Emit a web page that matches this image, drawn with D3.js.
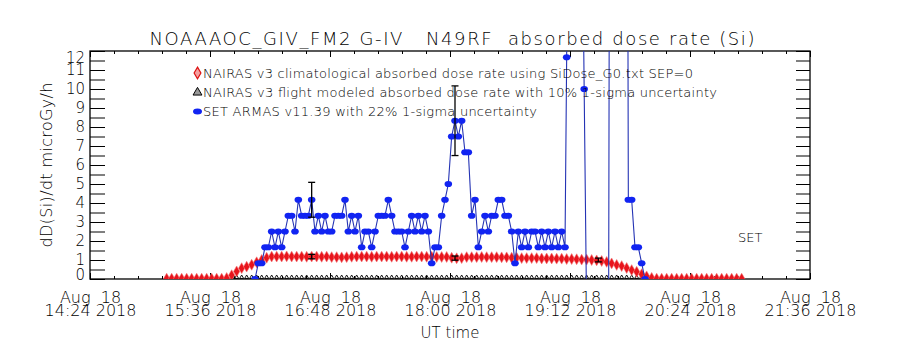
<!DOCTYPE html>
<html>
<head>
<meta charset="utf-8">
<script src="https://cdn.jsdelivr.net/npm/d3@7"></script>
<style>
body { margin: 0; background: #fff; }
text { font-family: "DejaVu Sans ExtraLight", "DejaVu Sans", sans-serif; font-weight: 200; fill: #000; white-space: pre; }
</style>
</head>
<body>
<div id="chart"></div>
<script>
// times are minutes after 00:00 UT on Aug 18 2018

// NAIRAS model output, every 3 min
const modelTime = d3.range(910, 1256, 3);
const climRate = [
    0.02, 0.02, 0.02, 0.02, 0.02, 0.02, 0.02, 0.02, 0.02, 0.02, 0.02, 0.02,
    0.05, 0.2, 0.4, 0.57, 0.65, 0.75, 0.88, 1.0, 1.12, 1.18,
    1.18, 1.18, 1.19, 1.18, 1.18, 1.18, 1.17, 1.18, 1.18, 1.17, 1.18, 1.15,
    1.15, 1.14, 1.15, 1.17, 1.18, 1.18, 1.18, 1.17, 1.18, 1.18, 1.18, 1.17,
    1.18, 1.18, 1.17, 1.17, 1.18, 1.18, 1.17, 1.17, 1.16, 1.16, 1.16,
    1.12, 1.09, 1.1,
    1.15, 1.15, 1.15, 1.16, 1.15, 1.15, 1.15, 1.14, 1.14,
    1.12, 1.12, 1.1, 1.1, 1.1, 1.1, 1.08, 1.08, 1.08, 1.07, 1.07, 1.05, 1.05, 1.04, 1.02, 1.02,
    1.0, 0.98, 0.95, 0.9, 0.82, 0.74, 0.68, 0.58, 0.47, 0.38, 0.25, 0.14, 0.06,
    0.02, 0.02, 0.02, 0.02, 0.02, 0.02, 0.02, 0.02, 0.02, 0.02, 0.02, 0.02,
    0.02, 0.02, 0.02, 0.02, 0.02, 0.02
];
const flightRate = [
    0.01, 0.01, 0.01, 0.01, 0.01, 0.01, 0.01, 0.01, 0.01, 0.01, 0.01, 0.01,
    0.01, 0.01, 0.01, 0.01, 0.01, 0.01, 0.01, 0.01, 0.01, 0.01, 0.01, 0.01,
    0.01, 0.01, 0.01, 0.01, 0.01, 0.01, 0.01, 0.01, 0.01, 0.01, 0.01, 0.01,
    0.01, 0.01, 0.01, 0.01, 0.01, 0.01, 0.01, 0.01, 0.01, 0.01, 0.01, 0.01,
    0.01, 0.01, 0.01, 0.01, 0.01, 0.01, 0.01, 0.01, 0.01, 0.01, 0.01, 0.01,
    0.01, 0.01, 0.01, 0.01, 0.01, 0.01, 0.01, 0.01, 0.01, 0.01, 0.01, 0.01,
    0.01, 0.01, 0.01, 0.01, 0.01, 0.01, 0.01, 0.01, 0.01, 0.01, 0.01, 0.01,
    0.01, 0.01, 0.01, 0.01, 0.01, 0.01, 0.01, 0.01, 0.01, 0.01, 0.01, 0.01,
    0.01, 0.01, 0.01, 0.01, 0.01, 0.01, 0.01, 0.01, 0.01, 0.01, 0.01, 0.01,
    0.01, 0.01, 0.01, 0.01, 0.01, 0.01, 0.01, 0.01
];

// ARMAS measurements, every 2 min, then the SET spikes (off scale)
const armasTime = d3.range(963, 1150, 2).concat(
    [1150, 1152, 1160.5, 1163, 1175, 1177, 1185, 1187, 1189, 1191, 1193, 1195, 1197]);
const armasRate = [
    0, 0.83, 0.83, 1.67, 1.67, 2.5, 1.67, 2.5, 1.67, 2.5,
    3.33, 3.33, 2.5, 4.17, 3.33, 3.33, 3.33, 4.17, 2.5, 3.33,
    2.5, 3.33, 2.5, 2.5, 3.33, 3.33, 3.33, 4.17, 2.5, 3.33,
    2.5, 3.33, 1.67, 2.5, 2.5, 1.67, 2.5, 3.33, 3.33, 3.33,
    4.17, 3.33, 2.5, 2.5, 2.5, 1.67, 2.5, 3.33, 2.5, 3.33,
    2.5, 3.33, 2.5, 0.83, 1.67, 1.67, 3.33, 4.17, 5.0, 7.5,
    8.33, 7.5, 8.33, 6.67, 6.67, 3.33, 4.17, 1.67, 2.5, 3.33,
    2.5, 3.33, 3.33, 4.17, 4.17, 3.33, 3.33, 2.5, 0.83, 2.5,
    1.67, 2.5, 1.67, 2.5, 2.5, 1.67, 2.5, 1.67, 2.5, 1.67,
    2.5, 1.67, 2.5, 1.67,
    11.67, 80, 10.0, -10, -10, 80, 80, 4.17, 4.17, 1.67, 1.67, 0.83, 0
];

// error bars
const armasErrTime = [997, 1083];
const armasErrRate = [4.17, 8.33];
const nairasErrTime = [997, 1083, 1169];
const nairasErrRate = [1.18, 1.1, 1.0];
const armasSigma = 0.22;
const nairasSigma = 0.10;

// axis ticks
const majorTicks = [864, 936, 1008, 1080, 1152, 1224, 1296];
const minorTicks = d3.range(864, 1296.1, 14.4);
const yTicks = d3.range(0, 12.01, 0.5);

const legendLabels = [
    "NAIRAS v3 climatological absorbed dose rate using SiDose_G0.txt SEP=0",
    "NAIRAS v3 flight modeled absorbed dose rate with 10% 1-sigma uncertainty",
    "SET ARMAS v11.39 with 22% 1-sigma uncertainty"
];

const margin = { top: 51, right: 90, bottom: 71, left: 90 };
const width = 900 - margin.left - margin.right;
const height = 350 - margin.top - margin.bottom;

const svg = d3.select("#chart").append("svg")
    .attr("width", 900)
    .attr("height", 350);

const g = svg.append("g")
    .attr("transform", "translate(" + margin.left + "," + margin.top + ")");

const toDate = m => new Date(Date.UTC(2018, 7, 18) + m * 60000);

const x = d3.scaleTime()
    .domain([toDate(864), toDate(1296)])
    .range([0, width]);
const y = d3.scaleLinear()
    .domain([0, 12])
    .range([height, 0]);

g.append("clipPath").attr("id", "plot-clip")
    .append("rect").attr("width", width).attr("height", height);

// title
svg.append("text")
    .attr("x", 452).attr("y", 45)
    .attr("text-anchor", "middle")
    .attr("font-size", 18)
    .attr("textLength", 605)
    .text("NOAAAOC_GIV_FM2 G-IV   N49RF  absorbed dose rate (Si)");

// axes
function cleanAxis(sel) {
    sel.select(".domain").remove();
    sel.selectAll(".tick line").attr("stroke", "#000").attr("stroke-width", 1);
    sel.attr("font-family", null);
}

g.append("g").attr("transform", "translate(0," + height + ")")
    .call(d3.axisBottom(x).tickValues(minorTicks.map(toDate)).tickSizeInner(-3).tickFormat(""))
    .call(cleanAxis);
g.append("g").call(d3.axisTop(x).tickValues(minorTicks.map(toDate)).tickSizeInner(-3).tickFormat(""))
    .call(cleanAxis);
g.append("g").call(d3.axisTop(x).tickValues(majorTicks.map(toDate)).tickSizeInner(-6).tickFormat(""))
    .call(cleanAxis);

const fmtDay = d3.utcFormat("%b  %d");
const fmtTime = d3.utcFormat("%H:%M %Y");
const xAxis = g.append("g").attr("transform", "translate(0," + height + ")")
    .call(d3.axisBottom(x).tickValues(majorTicks.map(toDate)).tickSizeInner(-6))
    .call(cleanAxis);
xAxis.selectAll(".tick text").each(function (d) {
    const t = d3.select(this).attr("y", null).attr("dy", null)
        .attr("font-size", 16).attr("fill", "#000");
    t.text(null);
    t.append("tspan").attr("x", 0).attr("y", 23.5).text(fmtDay(d));
    t.append("tspan").attr("x", 0).attr("y", 36.7).text(fmtTime(d));
});

const yAxis = g.append("g")
    .call(d3.axisLeft(y).tickValues(yTicks).tickSizeInner(-15).tickPadding(5)
        .tickFormat(d => Number.isInteger(d) ? d : ""))
    .call(cleanAxis);
yAxis.selectAll(".tick text")
    .attr("font-size", 15).attr("fill", "#000")
    .attr("dy", d => d === 12 ? "0.75em" : d === 0 ? "0.05em" : "0.32em");

g.append("g").attr("transform", "translate(" + width + ",0)")
    .call(d3.axisLeft(y).tickValues(yTicks).tickSizeInner(14).tickFormat(""))
    .call(cleanAxis);

g.append("rect")
    .attr("width", width).attr("height", height)
    .attr("fill", "none").attr("stroke", "#000").attr("stroke-width", 1.3);

// axis titles
svg.append("text")
    .attr("transform", "translate(52,165) rotate(-90)")
    .attr("text-anchor", "middle")
    .attr("font-size", 16)
    .attr("textLength", 165)
    .text("dD(Si)/dt microGy/h");

svg.append("text")
    .attr("x", 450).attr("y", 338)
    .attr("text-anchor", "middle")
    .attr("font-size", 15)
    .text("UT time");

const plot = g.append("g").attr("clip-path", "url(#plot-clip)");

// NAIRAS flight modeled (triangles)
const triSmall = d3.symbol().type(d3.symbolTriangle).size(7);
plot.append("g")
    .selectAll("path")
    .data(modelTime.map((t, i) => [t, flightRate[i]]))
    .join("path")
    .attr("transform", d => "translate(" + x(toDate(d[0])) + "," + (y(d[1]) - 1.5) + ")")
    .attr("d", triSmall)
    .attr("fill", "none")
    .attr("stroke", "#000")
    .attr("stroke-width", 0.9);

// NAIRAS climatological (diamonds)
const diamond = d3.symbol().type(d3.symbolDiamond).size(34);
plot.append("g")
    .selectAll("path")
    .data(modelTime.map((t, i) => [t, climRate[i]]))
    .join("path")
    .attr("transform", d => "translate(" + x(toDate(d[0])) + "," + y(d[1]) + ")")
    .attr("d", diamond)
    .attr("fill", "#e8141c")
    .attr("stroke", "#f47a7a")
    .attr("stroke-width", 0.6);

// ARMAS line + markers
const armas = armasTime.map((t, i) => [t, armasRate[i]]);
plot.append("path")
    .datum(armas)
    .attr("fill", "none")
    .attr("stroke", "#2433b4")
    .attr("stroke-width", 1.1)
    .attr("d", d3.line().x(d => x(toDate(d[0]))).y(d => y(d[1])));

plot.append("g")
    .selectAll("ellipse")
    .data(armas)
    .join("ellipse")
    .attr("cx", d => x(toDate(d[0])))
    .attr("cy", d => y(d[1]))
    .attr("rx", 3.8)
    .attr("ry", 3.1)
    .attr("fill", "#1124f2");

// error bars
function errorBars(times, rates, sigma, cap) {
    const bars = plot.append("g").attr("stroke", "#000").attr("stroke-width", 1.3);
    times.forEach((t, i) => {
        const cx = x(toDate(t));
        const lo = y(rates[i] * (1 - sigma));
        const hi = y(rates[i] * (1 + sigma));
        bars.append("line").attr("x1", cx).attr("x2", cx).attr("y1", lo).attr("y2", hi);
        bars.append("line").attr("x1", cx - cap).attr("x2", cx + cap).attr("y1", lo).attr("y2", lo);
        bars.append("line").attr("x1", cx - cap).attr("x2", cx + cap).attr("y1", hi).attr("y2", hi);
    });
}
errorBars(nairasErrTime, nairasErrRate, nairasSigma, 3.5);
errorBars(armasErrTime, armasErrRate, armasSigma, 3.5);

// legend
const legend = svg.append("g");
const legendLen = [490, 514, 334];
legendLabels.forEach((label, i) => {
    legend.append("text")
        .attr("x", 203).attr("y", 78 + i * 19.2)
        .attr("font-size", 13)
        .attr("textLength", legendLen[i])
        .text(label);
});
legend.append("path")
    .attr("transform", "translate(197.5,73)")
    .attr("d", d3.symbol().type(d3.symbolDiamond).size(40))
    .attr("fill", "#f4a0a0").attr("stroke", "#d11").attr("stroke-width", 1.2);
legend.append("path")
    .attr("transform", "translate(197.5,92.5)")
    .attr("d", d3.symbol().type(d3.symbolTriangle).size(34))
    .attr("fill", "#999").attr("stroke", "#000").attr("stroke-width", 1);
legend.append("ellipse")
    .attr("cx", 197.5).attr("cy", 111.5).attr("rx", 4.5).attr("ry", 3)
    .attr("fill", "#1124f2");

svg.append("text")
    .attr("x", 738).attr("y", 242)
    .attr("font-size", 13)
    .text("SET");
</script>
</body>
</html>
